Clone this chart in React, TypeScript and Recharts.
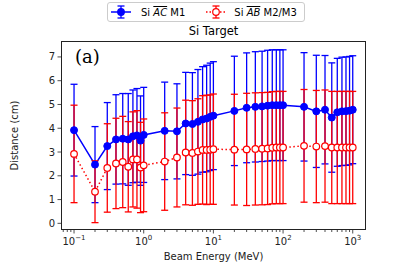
import { ComposedChart, Line, ErrorBar, XAxis, YAxis } from 'recharts'

const energies = [0.1, 0.2, 0.3, 0.4, 0.5, 0.6, 0.7, 0.8, 0.9, 1, 2, 3, 4, 5, 6, 7, 8, 9, 10, 20, 30, 40, 50, 60, 70, 80, 90, 100, 200, 300, 400, 500, 600, 700, 800, 900, 1000]
const acMean = [3.92, 2.47, 3.25, 3.53, 3.56, 3.53, 3.66, 3.7, 3.48, 3.72, 3.89, 3.87, 4.2, 4.18, 4.27, 4.37, 4.41, 4.48, 4.53, 4.73, 4.86, 4.9, 4.92, 4.95, 4.97, 4.97, 4.97, 4.97, 4.9, 4.71, 4.78, 4.45, 4.67, 4.71, 4.72, 4.74, 4.78]
const acErr = [1.93, 1.6, 1.83, 1.88, 1.9, 1.93, 1.95, 1.97, 1.88, 2.0, 2.05, 2.0, 2.15, 2.16, 2.2, 2.22, 2.24, 2.26, 2.27, 2.3, 2.31, 2.32, 2.32, 2.33, 2.33, 2.33, 2.33, 2.33, 2.28, 2.36, 2.28, 2.3, 2.27, 2.28, 2.28, 2.28, 2.27]
const abMean = [2.92, 1.33, 2.33, 2.52, 2.58, 2.38, 2.69, 2.69, 2.35, 2.44, 2.6, 2.77, 2.98, 2.96, 3.02, 3.09, 3.09, 3.1, 3.12, 3.1, 3.11, 3.13, 3.14, 3.15, 3.18, 3.19, 3.19, 3.19, 3.26, 3.23, 3.25, 3.19, 3.19, 3.19, 3.19, 3.19, 3.19]
const abErr = [2.05, 1.3, 1.86, 1.9, 1.92, 1.9, 2.0, 2.05, 1.9, 1.95, 2.05, 2.08, 2.2, 2.2, 2.22, 2.28, 2.3, 2.3, 2.32, 2.33, 2.36, 2.36, 2.36, 2.36, 2.36, 2.36, 2.36, 2.36, 2.37, 2.36, 2.36, 2.36, 2.36, 2.36, 2.36, 2.36, 2.36]

const majorX = [0.1, 1, 10, 100, 1000]
const majorExp = ['−1', '0', '1', '2', '3']
const minorX = [0.07, 0.08, 0.09, 0.2, 0.3, 0.4, 0.5, 0.6, 0.7, 0.8, 0.9, 2, 3, 4, 5, 6, 7, 8, 9, 20, 30, 40, 50, 60, 70, 80, 90, 200, 300, 400, 500, 600, 700, 800, 900]
const yTicks = [0, 1, 2, 3, 4, 5, 6, 7]

const data = energies.map((x, i) => ({ x, ac: acMean[i], acErr: acErr[i], ab: abMean[i], abErr: abErr[i] }))

const font = 'DejaVu Sans'

const XTick = ({ x, y, payload }: any) => {
  const i = majorX.indexOf(payload.value)
  const major = i >= 0
  return <g>
    <line x1={x} x2={x} y1={y} y2={y + (major ? 3.5 : 2)} stroke="#222" strokeWidth={0.8} />
    {major && <text x={x} y={y + 15} textAnchor="middle" fontSize={10} fontFamily={font} fill="#222">
      10<tspan dy={-5} fontSize={7}>{majorExp[i]}</tspan>
    </text>}
  </g>
}

const YTick = ({ x, y, payload }: any) => <g>
  <line x1={x - 3.5} x2={x} y1={y} y2={y} stroke="#222" strokeWidth={0.8} />
  <text x={x - 6} y={y + 3.5} textAnchor="end" fontSize={10} fontFamily={font} fill="#222">{payload.value}</text>
</g>

const Sym = ({ color, dotted, open }: { color: string; dotted?: boolean; open?: boolean }) =>
  <svg width={20} height={14} style={{ verticalAlign: 'middle' }}>
    <line x1={0} x2={20} y1={7} y2={7} stroke={color} strokeWidth={1.5} strokeDasharray={dotted ? '1.5 2' : undefined} />
    <line x1={10} x2={10} y1={1} y2={13} stroke={color} strokeWidth={1.3} />
    <line x1={6.5} x2={13.5} y1={1} y2={1} stroke={color} strokeWidth={1.3} />
    <line x1={6.5} x2={13.5} y1={13} y2={13} stroke={color} strokeWidth={1.3} />
    <circle cx={10} cy={7} r={3.3} fill={open ? '#fff' : color} stroke={color} strokeWidth={1.2} />
  </svg>

export default function App() {
  return (
    <div style={{ position: 'absolute', left: 0, top: 0, width: 407, height: 271, background: '#fff', fontFamily: font }}>
      <ComposedChart width={407} height={271} data={data} margin={{ top: 41, right: 41, bottom: 11, left: 8 }}>
        <XAxis dataKey="x" type="number" scale="log" domain={[0.065, 1550]} allowDataOverflow
          ticks={[...majorX, ...minorX].sort((a, b) => a - b)} interval={0} tickSize={0} tickMargin={0}
          tick={<XTick />} axisLine={false} height={30}
          label={{ value: 'Beam Energy (MeV)', position: 'insideBottom', offset: 0, fontSize: 10, fontFamily: font, fill: '#222' }} />
        <YAxis type="number" domain={[-0.28, 7.67]} allowDataOverflow ticks={yTicks} interval={0}
          tickSize={0} tickMargin={0} tick={<YTick />} axisLine={false} width={53}
          label={{ value: 'Distance (cm)', angle: -90, position: 'insideLeft', offset: 6, fontSize: 10, fontFamily: font, fill: '#222', style: { textAnchor: 'middle' } }} />
        <Line dataKey="ac" stroke="#0000ff" strokeWidth={1.5} isAnimationActive={false}
          dot={{ r: 3.5, fill: '#0000ff', stroke: '#0000ff', strokeWidth: 1 }} activeDot={false}>
          <ErrorBar dataKey="acErr" direction="y" width={3.5} stroke="#0000ff" strokeWidth={1.3} />
        </Line>
        <Line dataKey="ab" stroke="#ff0000" strokeWidth={1.5} strokeDasharray="1.5 2.5" isAnimationActive={false}
          dot={{ r: 3.3, fill: '#ffffff', stroke: '#ff0000', strokeWidth: 1.2, strokeDasharray: '' }} activeDot={false}>
          <ErrorBar dataKey="abErr" direction="y" width={3.5} stroke="#ff0000" strokeWidth={1.3} />
        </Line>
        <text x={75} y={63} fontSize={18} fontFamily="DejaVu Serif" fill="#000">(a)</text>
        <text x={213.5} y={35} textAnchor="middle" fontSize={11.5} fontFamily={font} fill="#000">Si Target</text>
      </ComposedChart>
      <div style={{ position: 'absolute', left: 61, top: 41, width: 305, height: 189, border: '1px solid #222', boxSizing: 'border-box', pointerEvents: 'none' }} />
      <div style={{ position: 'absolute', left: 107, top: 2, width: 198, height: 20, border: '1px solid #ccc', borderRadius: 3, boxSizing: 'border-box', display: 'flex', alignItems: 'center', fontSize: 10, color: '#000', background: 'rgba(255,255,255,0.8)' }}>
        <span style={{ marginLeft: 3 }}><Sym color="#0000ff" /></span>
        <span style={{ marginLeft: 10 }}>Si <span style={{ fontStyle: 'italic', textDecoration: 'overline' }}>AC</span> M1</span>
        <span style={{ marginLeft: 21 }}><Sym color="#ff0000" dotted open /></span>
        <span style={{ marginLeft: 8 }}>Si <span style={{ fontStyle: 'italic', textDecoration: 'overline' }}>AB</span> M2/M3</span>
      </div>
    </div>
  )
}
